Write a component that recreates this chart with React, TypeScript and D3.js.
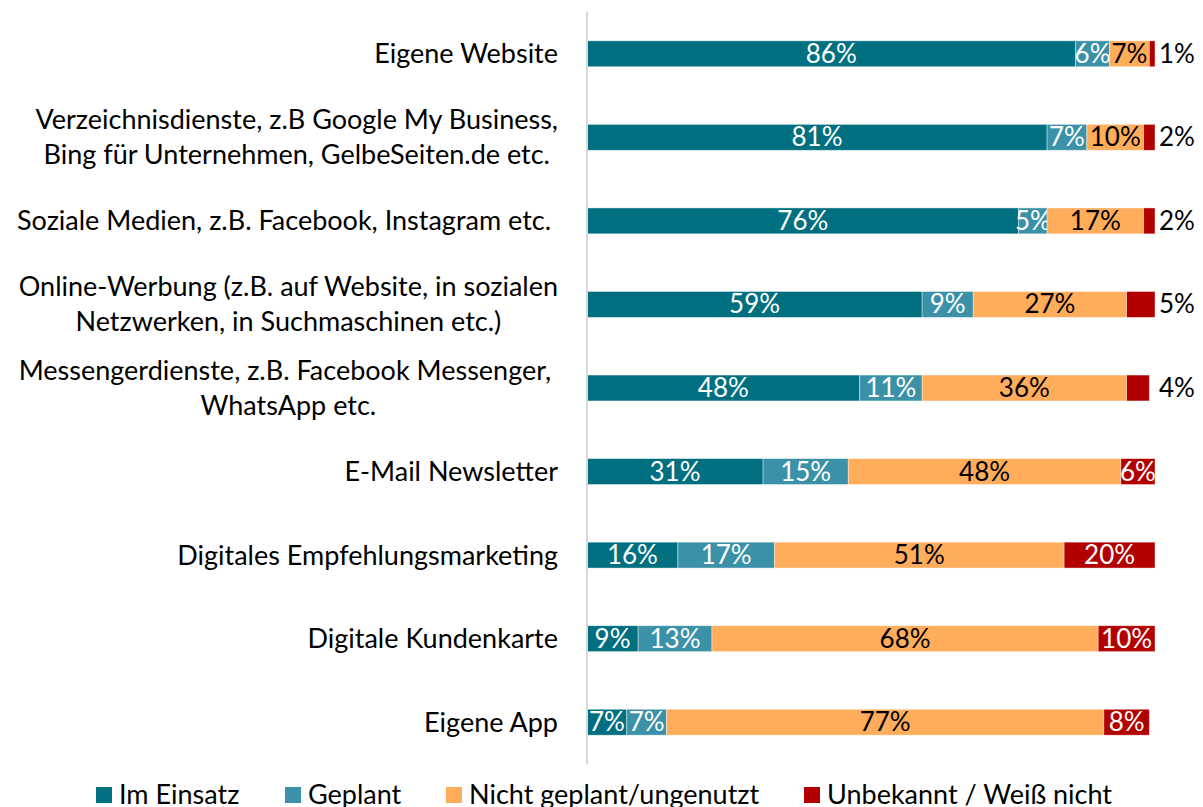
import { useEffect, useRef } from 'react'
import * as d3 from 'd3'

// Categories (top to bottom), multi-line labels split as in the source
const categories = [
  ['Eigene Website'],
  ['Verzeichnisdienste, z.B Google My Business,', 'Bing für Unternehmen, GelbeSeiten.de etc.'],
  ['Soziale Medien, z.B. Facebook, Instagram etc. '],
  ['Online-Werbung (z.B. auf Website, in sozialen', 'Netzwerken, in Suchmaschinen etc.)'],
  ['Messengerdienste, z.B. Facebook Messenger, ', 'WhatsApp etc.'],
  ['E-Mail Newsletter'],
  ['Digitales Empfehlungsmarketing'],
  ['Digitale Kundenkarte'],
  ['Eigene App'],
]

const seriesNames = ['Im Einsatz', 'Geplant', 'Nicht geplant/ungenutzt', 'Unbekannt / Weiß nicht']
const seriesColors = ['#006F80', '#3B91A7', '#FFAC5B', '#B20000']

const imEinsatz = [86, 81, 76, 59, 48, 31, 16, 9, 7]
const geplant = [6, 7, 5, 9, 11, 15, 17, 13, 7]
const nichtGeplant = [7, 10, 17, 27, 36, 48, 51, 68, 77]
// drawn width of the last segment as it appears in the picture
const unbekannt = [1, 2, 2, 5, 4, 6, 16, 10, 8]
// printed labels of the last segment (row 7 is labelled 20%)
const unbekanntLabels = ['1%', '2%', '2%', '5%', '4%', '6%', '20%', '10%', '8%']

const FONT = 'Lato, Carlito, Calibri, sans-serif'

function App() {
  const svgRef = useRef<SVGSVGElement | null>(null)

  useEffect(() => {
    document.body.style.margin = '0'
    const svg = d3.select(svgRef.current)
    svg.selectAll('*').remove()

    const width = 1203
    const height = 807
    svg.attr('width', width).attr('height', height)

    const x = d3.scaleLinear().domain([0, 100]).range([587, 1155])
    const y = d3.scaleBand<number>()
      .domain(d3.range(categories.length))
      .range([12, 764])
      .paddingInner(0.69)
      .paddingOuter(0.345)

    const series = [imEinsatz, geplant, nichtGeplant, unbekannt]
    const rows = categories.map((_, i) => {
      const r: any = { i }
      series.forEach((s, k) => { r[k] = s[i] })
      return r
    })
    const stack = d3.stack<any, number>().keys([0, 1, 2, 3])(rows)

    const bars = svg.append('g')
    stack.forEach((layer, k) => {
      layer.forEach((d, i) => {
        const x0 = x(d[0])
        const x1 = x(d[1])
        const yy = y(i) as number
        bars.append('rect')
          .attr('x', x0)
          .attr('y', yy)
          .attr('width', x1 - x0)
          .attr('height', y.bandwidth())
          .attr('fill', seriesColors[k])
          .attr('stroke', '#ffffff')
          .attr('stroke-opacity', 0.5)
          .attr('stroke-width', 0.8)

        const label = k === 3 ? unbekanntLabels[i] : `${series[k][i]}%`
        const outside = k === 3 && series[k][i] <= 5
        bars.append('text')
          .attr('x', outside ? x(100) + 4 : (x0 + x1) / 2)
          .attr('y', yy + y.bandwidth() / 2 + 9)
          .attr('text-anchor', outside ? 'start' : 'middle')
          .attr('font-family', FONT)
          .attr('font-size', 26)
          .attr('fill', outside || k === 2 ? '#000000' : '#ffffff')
          .text(label)
      })
    })

    // vertical axis line
    svg.append('line')
      .attr('x1', 587).attr('x2', 587)
      .attr('y1', 12).attr('y2', 764)
      .attr('stroke', '#d9d9d9')
      .attr('stroke-width', 2)

    // category labels, block right-aligned, lines centered within the block
    const lineH = 35
    categories.forEach((lines, i) => {
      const cy = (y(i) as number) + y.bandwidth() / 2
      const g = svg.append('g')
      const texts = lines.map((t, j) =>
        g.append('text')
          .attr('y', cy + 9.5 + (j - (lines.length - 1) / 2) * lineH)
          .attr('font-family', FONT)
          .attr('font-size', 27)
          .attr('fill', '#000000')
          .style('white-space', 'pre')
          .text(t)
      )
      const maxW = d3.max(texts, t => (t.node() as SVGTextElement).getComputedTextLength()) || 0
      const cx = 558 - maxW / 2
      texts.forEach(t => t.attr('x', cx).attr('text-anchor', 'middle'))
    })

    // legend
    const legendX = [96, 285, 446, 804]
    const legend = svg.append('g')
    seriesNames.forEach((name, k) => {
      legend.append('rect')
        .attr('x', legendX[k])
        .attr('y', 787)
        .attr('width', 16)
        .attr('height', 16)
        .attr('fill', seriesColors[k])
      legend.append('text')
        .attr('x', legendX[k] + 23)
        .attr('y', 804)
        .attr('font-family', FONT)
        .attr('font-size', 27)
        .attr('fill', '#000000')
        .text(name)
    })
  }, [])

  return <svg ref={svgRef} style={{ display: 'block' }} />
}

export default App
